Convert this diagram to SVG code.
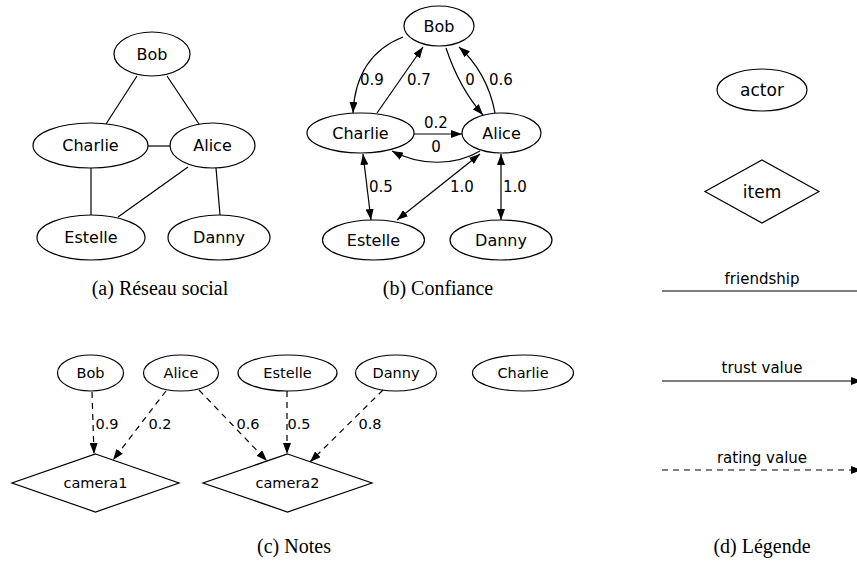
<svg xmlns="http://www.w3.org/2000/svg" width="857" height="569" viewBox="0 0 857 569">
<style>
.n{fill:#fff;stroke:#000;stroke-width:1.2}
.e{fill:none;stroke:#000;stroke-width:1.2}
.d{fill:none;stroke:#000;stroke-width:1.2;stroke-dasharray:6,5}
.t{font-family:"DejaVu Sans",Verdana,sans-serif;text-anchor:middle;dominant-baseline:central;fill:#000}
.a{font-size:16px}
.c{font-size:14.5px}
.l{font-size:15px}
.g{font-size:17px}
.cap{font-family:"Liberation Serif","Times New Roman",serif;font-size:20px;text-anchor:middle;fill:#000}
</style>
<defs>
<marker id="ah" viewBox="0 0 11 8" refX="11" refY="4" markerWidth="11" markerHeight="8" markerUnits="userSpaceOnUse" orient="auto-start-reverse">
<path d="M0,0 L11,4 L0,8 z" fill="#000"/>
</marker>
</defs>
<rect width="857" height="569" fill="#fff"/>

<!-- Panel (a) -->
<g id="a-edges">
<line class="e" x1="137" y1="76" x2="106" y2="124"/>
<line class="e" x1="167" y1="76" x2="199" y2="124"/>
<line class="e" x1="148" y1="146" x2="170" y2="146"/>
<line class="e" x1="91" y1="168" x2="91" y2="215"/>
<line class="e" x1="188" y1="167" x2="118" y2="217"/>
<line class="e" x1="216" y1="168" x2="220" y2="215"/>
</g>
<g id="a-bob"><ellipse class="n" cx="152" cy="54" rx="38" ry="22"/><text class="t a" x="152" y="54">Bob</text></g>
<g id="a-charlie"><ellipse class="n" cx="90.5" cy="145.5" rx="57.5" ry="22.5"/><text class="t a" x="90.5" y="145.5">Charlie</text></g>
<g id="a-alice"><ellipse class="n" cx="212.5" cy="145.5" rx="42.5" ry="22.5"/><text class="t a" x="212.5" y="145.5">Alice</text></g>
<g id="a-estelle"><ellipse class="n" cx="91" cy="237.5" rx="54" ry="22.5"/><text class="t a" x="91" y="237.5">Estelle</text></g>
<g id="a-danny"><ellipse class="n" cx="219" cy="237.5" rx="51" ry="22.5"/><text class="t a" x="219" y="237.5">Danny</text></g>
<text class="cap" x="160" y="295">(a) Réseau social</text>

<!-- Panel (b) -->
<g id="b-edges">
<path class="e" d="M403,37 C375,48 355,70 353,113" marker-end="url(#ah)"/>
<path class="e" d="M377,113 L423,47" marker-end="url(#ah)"/>
<path class="e" d="M446,48 C455,75 468,98 483,115" marker-end="url(#ah)"/>
<path class="e" d="M495,113 C490,85 476,62 459,47" marker-end="url(#ah)"/>
<path class="e" d="M414,134 L462,134" marker-end="url(#ah)"/>
<path class="e" d="M480,151 C455,166 420,166 392,151" marker-end="url(#ah)"/>
<path class="e" d="M363,154 L371,220" marker-start="url(#ah)" marker-end="url(#ah)"/>
<path class="e" d="M480,154 L397,220" marker-start="url(#ah)" marker-end="url(#ah)"/>
<path class="e" d="M501,154 L501,220" marker-start="url(#ah)" marker-end="url(#ah)"/>
<text class="t l" x="372" y="80">0.9</text>
<text class="t l" x="419" y="80">0.7</text>
<text class="t l" x="470" y="80">0</text>
<text class="t l" x="501" y="80">0.6</text>
<text class="t l" x="436" y="123">0.2</text>
<text class="t l" x="436" y="147">0</text>
<text class="t l" x="381" y="187">0.5</text>
<text class="t l" x="462" y="187">1.0</text>
<text class="t l" x="515" y="187">1.0</text>
</g>
<g id="b-bob"><ellipse class="n" cx="439" cy="26" rx="35" ry="20"/><text class="t a" x="439" y="26">Bob</text></g>
<g id="b-charlie"><ellipse class="n" cx="360.5" cy="133" rx="53.5" ry="20"/><text class="t a" x="360.5" y="133">Charlie</text></g>
<g id="b-alice"><ellipse class="n" cx="501.5" cy="133" rx="39.5" ry="20"/><text class="t a" x="501.5" y="133">Alice</text></g>
<g id="b-estelle"><ellipse class="n" cx="373.5" cy="240" rx="51" ry="20"/><text class="t a" x="373.5" y="240">Estelle</text></g>
<g id="b-danny"><ellipse class="n" cx="501" cy="240" rx="51" ry="20"/><text class="t a" x="501" y="240">Danny</text></g>
<text class="cap" x="438" y="295">(b) Confiance</text>

<!-- Panel (c) -->
<g id="c-edges">
<path class="d" d="M92,392 L94,454" marker-end="url(#ah)"/>
<path class="d" d="M166,391 L113,460" marker-end="url(#ah)"/>
<path class="d" d="M199,390 L267,461" marker-end="url(#ah)"/>
<path class="d" d="M287,391 L287,454" marker-end="url(#ah)"/>
<path class="d" d="M383,390 L310,462" marker-end="url(#ah)"/>
<text class="t c" x="107" y="424">0.9</text>
<text class="t c" x="160" y="424">0.2</text>
<text class="t c" x="248" y="424">0.6</text>
<text class="t c" x="299" y="424">0.5</text>
<text class="t c" x="370" y="424">0.8</text>
</g>
<g id="c-bob"><ellipse class="n" cx="90.5" cy="373" rx="33" ry="18"/><text class="t c" x="90.5" y="373">Bob</text></g>
<g id="c-alice"><ellipse class="n" cx="181" cy="373" rx="37.5" ry="18"/><text class="t c" x="181" y="373">Alice</text></g>
<g id="c-estelle"><ellipse class="n" cx="287.5" cy="373" rx="49.5" ry="18"/><text class="t c" x="287.5" y="373">Estelle</text></g>
<g id="c-danny"><ellipse class="n" cx="396" cy="373" rx="40.5" ry="18"/><text class="t c" x="396" y="373">Danny</text></g>
<g id="c-charlie"><ellipse class="n" cx="523" cy="373" rx="50.5" ry="18"/><text class="t c" x="523" y="373">Charlie</text></g>
<g id="c-camera1"><polygon class="n" points="95.5,454 179,483 95.5,512 12,483"/><text class="t c" x="95.5" y="483">camera1</text></g>
<g id="c-camera2"><polygon class="n" points="287.5,454 372,483 287.5,512 203,483"/><text class="t c" x="287.5" y="483">camera2</text></g>
<text class="cap" x="294" y="553">(c) Notes</text>

<!-- Panel (d) -->
<g id="d-actor"><ellipse class="n" cx="762" cy="90" rx="45" ry="21"/><text class="t g" x="762" y="90">actor</text></g>
<g id="d-item"><polygon class="n" points="762,160 819,191.5 762,223 705,191.5"/><text class="t g" x="762" y="191.5">item</text></g>
<g id="d-legend-edges">
<text class="t l" x="762" y="279">friendship</text>
<line class="e" x1="662" y1="291" x2="857" y2="291"/>
<text class="t l" x="762" y="368">trust value</text>
<path class="e" d="M662,381 L862,381" marker-end="url(#ah)"/>
<text class="t l" x="762" y="458">rating value</text>
<path class="d" d="M662,470 L862,470" marker-end="url(#ah)"/>
</g>
<text class="cap" x="762" y="553">(d) Légende</text>
</svg>
